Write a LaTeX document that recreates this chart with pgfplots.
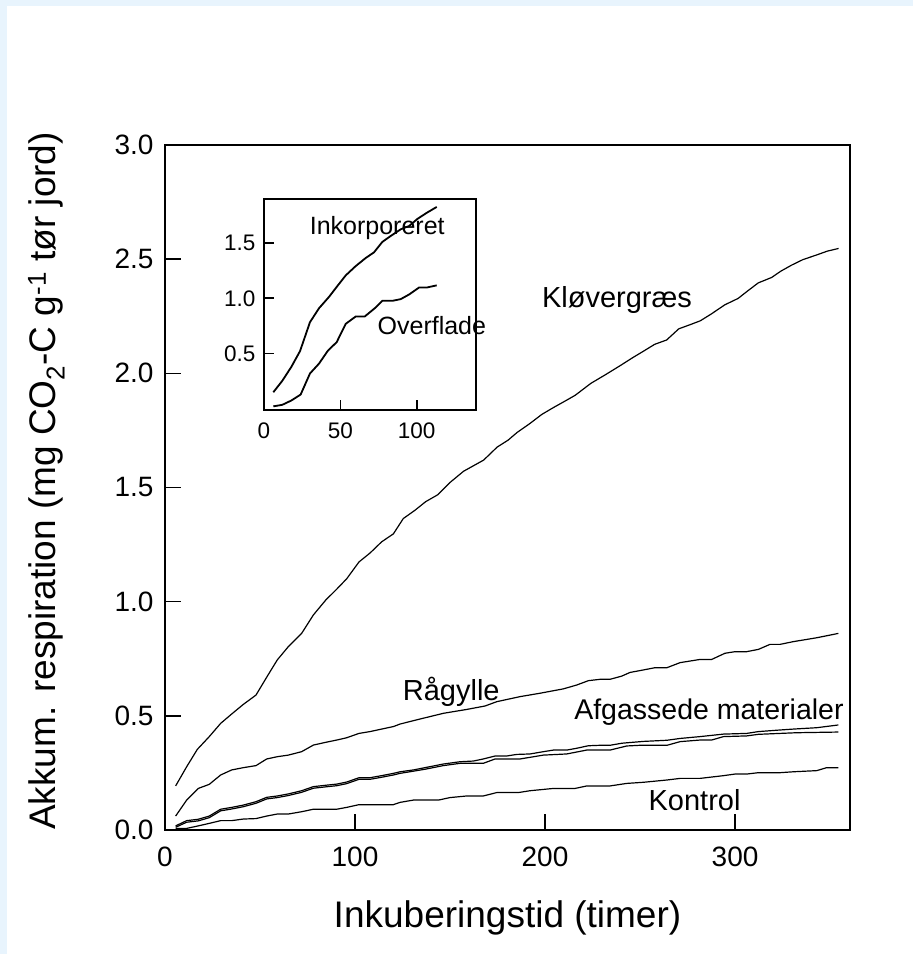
\documentclass[border=0pt]{standalone}
\usepackage{fontspec}
\setmainfont{Liberation Sans}
\usepackage{pgfplots}
\pgfplotsset{compat=1.18}
\usepackage{pgfplotstable}
\definecolor{bgblue}{RGB}{232,244,253}

\pgfplotstableread{
x y
5.6 0.193
11.4 0.277
17.0 0.353
23.3 0.409
29.3 0.467
35.1 0.508
41.2 0.550
47.9 0.591
53.5 0.669
59.1 0.745
64.9 0.803
71.9 0.861
78.1 0.942
84.6 1.007
90.4 1.055
95.6 1.100
102.1 1.174
107.9 1.213
114.0 1.262
120.2 1.297
125.4 1.364
131.5 1.400
137.2 1.438
143.5 1.468
150.0 1.522
157.1 1.571
162.5 1.596
167.7 1.620
174.8 1.677
180.5 1.707
185.3 1.741
192.0 1.780
198.3 1.820
204.4 1.850
210.0 1.876
215.9 1.904
224.1 1.956
232.0 1.995
239.8 2.035
246.4 2.070
252.0 2.098
257.7 2.127
264.0 2.146
270.4 2.195
276.0 2.212
281.7 2.230
287.5 2.260
294.6 2.300
301.6 2.328
306.5 2.360
312.2 2.396
319.3 2.420
324.0 2.447
329.8 2.474
335.7 2.498
342.8 2.518
348.5 2.535
354.5 2.547
}\klover

\pgfplotstableread{
x y
5.6 0.061
11.4 0.131
17.5 0.182
23.3 0.200
29.3 0.241
35.1 0.263
41.2 0.273
47.9 0.282
53.5 0.311
59.1 0.321
64.9 0.328
71.9 0.343
78.1 0.372
84.6 0.384
90.4 0.394
95.6 0.404
102.1 0.423
107.9 0.431
114.0 0.442
120.2 0.453
123.7 0.464
134.2 0.486
146.5 0.511
158.8 0.528
168.4 0.543
174.6 0.562
186.8 0.584
197.4 0.599
209.6 0.618
216.7 0.635
222.8 0.654
229.0 0.660
234.2 0.660
240.4 0.674
244.7 0.690
251.8 0.701
258.0 0.711
264.2 0.711
271.1 0.733
281.6 0.747
287.7 0.747
294.7 0.774
300.0 0.781
306.1 0.781
312.3 0.791
318.4 0.813
323.7 0.813
330.7 0.825
343.0 0.842
354.4 0.861
}\ragylle

\pgfplotstableread{
x y
5.6 0.018
11.4 0.041
17.5 0.047
23.3 0.061
29.3 0.091
35.1 0.099
41.2 0.109
47.9 0.124
53.5 0.143
59.1 0.149
64.9 0.158
71.9 0.172
78.1 0.190
84.6 0.196
90.4 0.201
95.6 0.210
102.1 0.229
107.9 0.229
114.0 0.238
120.2 0.248
123.7 0.255
130.7 0.263
136.8 0.273
146.5 0.289
155.3 0.299
162.3 0.302
167.5 0.311
173.7 0.324
179.8 0.324
185.1 0.331
192.1 0.333
199.1 0.343
204.4 0.350
211.4 0.350
216.7 0.358
222.8 0.369
229.0 0.371
234.2 0.371
240.4 0.380
246.0 0.384
251.8 0.388
264.2 0.393
271.1 0.401
281.6 0.409
293.9 0.420
306.1 0.423
312.3 0.431
323.7 0.438
330.7 0.442
343.0 0.448
354.4 0.460
}\afgasA

\pgfplotstableread{
x y
5.6 0.012
11.4 0.034
17.5 0.040
23.3 0.054
29.3 0.084
35.1 0.092
41.2 0.102
47.9 0.117
53.5 0.136
59.1 0.142
64.9 0.151
71.9 0.165
78.1 0.183
84.6 0.189
90.4 0.194
95.6 0.203
102.1 0.222
107.9 0.222
114.0 0.231
120.2 0.241
123.7 0.248
136.8 0.266
146.5 0.282
155.3 0.292
167.5 0.292
173.7 0.311
186.8 0.311
199.1 0.328
211.4 0.333
221.9 0.350
234.2 0.350
243.0 0.368
250.0 0.371
264.2 0.371
271.1 0.387
281.6 0.394
287.7 0.394
293.9 0.409
306.1 0.412
312.3 0.419
323.7 0.423
332.4 0.426
354.4 0.429
}\afgasB

\pgfplotstableread{
x y
5.6 0.007
11.4 0.007
17.5 0.018
23.3 0.029
29.3 0.041
35.1 0.041
41.2 0.048
47.9 0.050
53.5 0.061
59.1 0.070
64.9 0.070
71.9 0.080
78.1 0.091
84.6 0.091
90.4 0.091
95.6 0.099
102.1 0.111
107.9 0.111
114.0 0.111
120.2 0.111
123.7 0.121
130.7 0.131
143.9 0.131
150.0 0.142
158.8 0.149
167.5 0.149
174.6 0.164
186.0 0.164
192.1 0.172
204.4 0.182
215.8 0.182
222.0 0.193
234.2 0.193
243.0 0.204
251.8 0.209
264.2 0.219
271.1 0.226
281.6 0.226
293.9 0.238
300.0 0.245
306.1 0.245
312.3 0.251
323.7 0.251
330.7 0.255
343.0 0.260
348.2 0.273
354.4 0.273
}\kontrol

\pgfplotstableread{
x y
6.1 0.148
12.0 0.252
17.9 0.378
23.6 0.521
30.1 0.783
36.0 0.909
42.6 1.013
47.6 1.103
53.5 1.207
60.0 1.291
66.6 1.365
72.0 1.416
77.5 1.511
83.0 1.565
89.5 1.625
95.0 1.655
100.5 1.720
106.5 1.774
113.1 1.828
}\inkorp

\pgfplotstableread{
x y
6.1 0.020
12.0 0.034
17.9 0.073
24.0 0.127
30.1 0.318
36.0 0.407
41.9 0.526
47.6 0.602
53.5 0.768
60.0 0.834
65.9 0.834
72.5 0.909
77.5 0.977
84.1 0.977
89.5 0.992
95.0 1.034
101.5 1.097
106.5 1.097
113.1 1.117
}\overfl

\begin{document}
\begin{tikzpicture}[x=1pt,y=1pt]
\fill[bgblue] (0,0) rectangle (913,954);
\fill[white] (7,0) rectangle (913,948);

\begin{axis}[
  at={(165pt,124pt)}, anchor=south west,
  scale only axis, width=685pt, height=685pt,
  xmin=0, xmax=360.5, ymin=0, ymax=3,
  xtick={0,100,200,300}, ytick={0,0.5,1,1.5,2,2.5,3},
  tick pos=left, tick align=inside, major tick length=16pt,
  axis line style={line width=2pt},
  tick style={line width=1.6pt, black},
  /pgf/number format/assume math mode=true,
  tick label style={font=\fontsize{28}{28}\selectfont},
  x tick label style={yshift=-13pt},
  y tick label style={xshift=-8pt, /pgf/number format/fixed, /pgf/number format/fixed zerofill, /pgf/number format/precision=1},
  clip=false,
]
\addplot[black, mark=none, line width=1.2pt] table {\klover};
\addplot[black, mark=none, line width=1.2pt] table {\ragylle};
\addplot[black, mark=none, line width=1.2pt] table {\afgasA};
\addplot[black, mark=none, line width=1.2pt] table {\afgasB};
\addplot[black, mark=none, line width=1.2pt] table {\kontrol};
\node[anchor=base west, inner sep=0pt, font=\fontsize{29}{29}\selectfont] at (axis cs:198.3,2.288) {Kløvergræs};
\node[anchor=base west, inner sep=0pt, font=\fontsize{29}{29}\selectfont] at (axis cs:125.1,0.569) {Rågylle};
\node[anchor=base west, inner sep=0pt, font=\fontsize{28.5}{29}\selectfont] at (axis cs:215.3,0.485) {Afgassede materialer};
\node[anchor=base west, inner sep=0pt, font=\fontsize{29}{29}\selectfont] at (axis cs:254.4,0.0847) {Kontrol};
\end{axis}

\begin{axis}[
  at={(264pt,544pt)}, anchor=south west,
  scale only axis, width=211.5pt, height=211pt,
  xmin=0, xmax=138.5, ymin=-0.013, ymax=1.9,
  xtick={0,50,100}, ytick={0.5,1,1.5},
  tick pos=left, tick align=inside, major tick length=10pt,
  axis line style={line width=2pt},
  tick style={line width=1.6pt, black},
  /pgf/number format/assume math mode=true,
  tick label style={font=\fontsize{22.5}{23}\selectfont},
  x tick label style={yshift=-9pt},
  y tick label style={xshift=-5pt, /pgf/number format/fixed, /pgf/number format/fixed zerofill, /pgf/number format/precision=1},
  clip=false,
]
\addplot[black, mark=none, line width=1.8pt] table {\inkorp};
\addplot[black, mark=none, line width=1.8pt] table {\overfl};
\node[anchor=base west, inner sep=0pt, font=\fontsize{25}{25}\selectfont] at (axis cs:29.9,1.58) {Inkorporeret};
\node[anchor=base west, inner sep=0pt, font=\fontsize{25}{25}\selectfont] at (axis cs:74.3,0.67) {Overflade};
\end{axis}

\node[anchor=base, inner sep=0pt, font=\fontsize{37}{37}\selectfont] at (507.5,26) {Inkuberingstid (timer)};
\node[anchor=base, rotate=90, inner sep=0pt, font=\fontsize{37}{37}\selectfont] at (55,473) {Akkum. respiration (mg CO\textsubscript{2}-C g\textsuperscript{-1} tør jord)};
\end{tikzpicture}
\end{document}
